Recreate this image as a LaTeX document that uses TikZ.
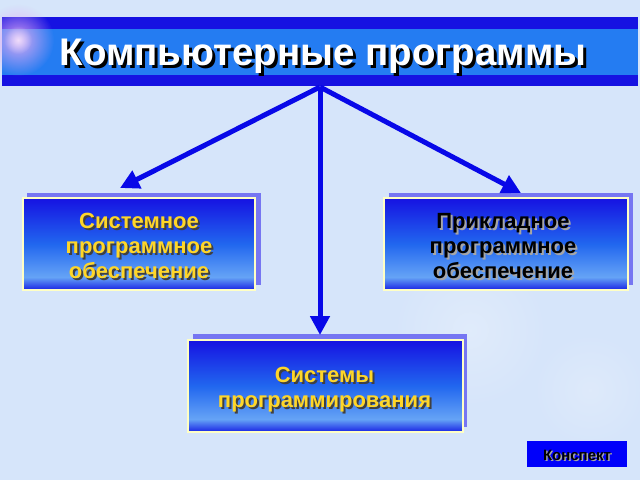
\documentclass[tikz,border=0pt]{standalone}
\usepackage{fontspec}
\setmainfont{Liberation Sans}
\usetikzlibrary{arrows.meta,fadings}

\definecolor{bgblue}{RGB}{214,229,250}
\definecolor{barblue}{RGB}{22,18,226}
\definecolor{bandblue}{RGB}{36,124,242}
\definecolor{arrblue}{RGB}{8,8,232}
\definecolor{shblue}{RGB}{118,118,242}
\definecolor{rimyellow}{RGB}{255,255,196}
\definecolor{txtyellow}{RGB}{255,214,40}
\definecolor{btnblue}{RGB}{0,0,250}
\definecolor{glowpink}{RGB}{225,170,245}

\pgfdeclareverticalshading{boxshade}{100bp}{color(0bp)=(barblue); color(25bp)=(barblue!85!bandblue); color(32bp)=(bandblue!70!white); color(50bp)=(bandblue!80!barblue); color(75bp)=(barblue); color(100bp)=(barblue)}
\tikzfading[name=softglow, inner color=transparent!0, outer color=transparent!100]

\tikzset{every picture/.style={line width=0.75pt}}

\begin{document}
\begin{tikzpicture}[x=1pt,y=1pt,yscale=-1,xscale=1,
  arr/.style={draw=arrblue,line width=5pt,-{Triangle[length=19pt,width=19pt]}},
  backbox/.style={fill=shblue,draw=none},
  mainbox/.style={shading=boxshade,draw=rimyellow,line width=2pt},
  glow/.style={path fading=softglow},
  boxtxt/.style={font=\bfseries\fontsize{22}{25}\selectfont,align=center,inner sep=0pt}]
\useasboundingbox (0,0) rectangle (640,480);

%Background
\fill [bgblue] (0,0) rectangle (640,480);
\fill [white,opacity=0.25,glow] (470,330) circle (80);
\fill [white,opacity=0.2,glow] (590,390) circle (60);

%Title bar
\fill [barblue] (2,17) rectangle (638,86);
\fill [bandblue] (2,29) rectangle (638,75);
\fill [glowpink,opacity=0.95,glow] (18,40) circle (36);
\fill [white,opacity=0.6,glow] (18,40) circle (14);
% Text Node
\node [text=black,font=\bfseries\fontsize{38.5}{44}\selectfont,anchor=base] at (326,68) {Компьютерные программы};
\node (title) [text=white,font=\bfseries\fontsize{38.5}{44}\selectfont,anchor=base] at (323,65) {Компьютерные программы};

%Shadow boxes
\fill [backbox] (27,193) rectangle (261,285);
\fill [backbox] (389,193) rectangle (633,285);
\fill [backbox] (193,334) rectangle (467,427);

%Main boxes
\path [mainbox] (23,198) rectangle (255,290) node (sys) [midway] {};
\path [mainbox] (384,198) rectangle (628,290) node (app) [midway] {};
\path [mainbox] (188,340) rectangle (463,432) node (prog) [midway] {};

%Arrow ends
\coordinate (root) at (320,87);
\coordinate (sysin) at (120,188);
\coordinate (appin) at (521,193);
\coordinate (progin) at (320,335);

%Straight Lines
\draw [arr] (root) -- (sysin);
\draw [arr] (root) -- (appin);
\draw [arr] (root) -- (progin);

% Text Node
\node [boxtxt,text=black!75] at ([shift={(2,4)}]sys.center) {Системное\\программное\\обеспечение};
\node (systxt) [boxtxt,text=txtyellow] at ([yshift=2pt]sys.center) {Системное\\программное\\обеспечение};
% Text Node
\node [boxtxt,text=black!35] at ([shift={(-1,4)}]app.center) {Прикладное\\программное\\обеспечение};
\node (apptxt) [boxtxt,text=black] at ([shift={(-3,2)}]app.center) {Прикладное\\программное\\обеспечение};
% Text Node
\node [boxtxt,text=black!75] at ([shift={(1,6)}]prog.center) {Системы\\программирования};
\node (progtxt) [boxtxt,text=txtyellow] at ([shift={(-1,4)}]prog.center) {Системы\\программирования};

%Button
\fill [btnblue] (527,441) rectangle (627,467);
\node [text=black!35,font=\bfseries\fontsize{15}{17}\selectfont,anchor=base] at (578.5,461.5) {Конспект};
\node (konsp) [text=black,font=\bfseries\fontsize{15}{17}\selectfont,anchor=base] at (577,460) {Конспект};

\end{tikzpicture}
\end{document}
